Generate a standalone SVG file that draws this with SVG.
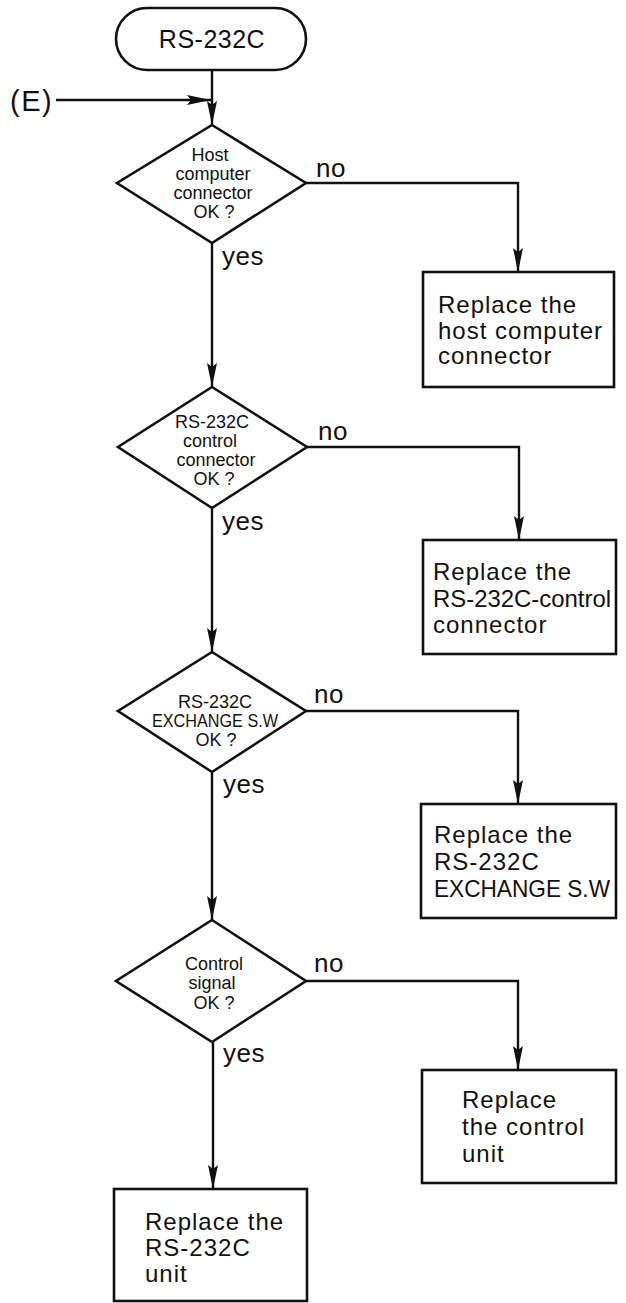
<svg xmlns="http://www.w3.org/2000/svg" width="626" height="1303" viewBox="0 0 626 1303">
<style>
.shape{fill:#fff;stroke:#111;stroke-width:2.6}
.conn{fill:none;stroke:#111;stroke-width:2.4;marker-end:url(#ah)}
text{font-family:"Liberation Sans",Arial,sans-serif;fill:#111}
.q{font-size:18px;text-anchor:middle}
.lbl{font-size:26px;letter-spacing:0.5px}
.box{font-size:24px;letter-spacing:1px}
.term{font-size:25px;letter-spacing:0.5px;text-anchor:middle}
</style>
<defs>
<marker id="ah" markerUnits="userSpaceOnUse" viewBox="0 0 24 10" refX="24" refY="5" markerWidth="24" markerHeight="10" orient="auto">
<path d="M0,0 L24,5 L0,10 L4,5 z" fill="#111"/>
</marker>
</defs>
<rect width="626" height="1303" fill="#fff"/>
<g id="connectors">
<path class="conn" d="M212,70 V125"/>
<path class="conn" d="M56,100 H211"/>
<path class="conn" d="M306,183 H518 V272"/>
<path class="conn" d="M212,243 V387"/>
<path class="conn" d="M307,447 H519 V540"/>
<path class="conn" d="M212,508 V652"/>
<path class="conn" d="M306,711 H518 V804"/>
<path class="conn" d="M212,772 V920"/>
<path class="conn" d="M306,981 H518 V1070"/>
<path class="conn" d="M213,1042 V1189"/>
</g>
<g id="labels">
<text x="10" y="111" style="font-size:29px;letter-spacing:1.5px">(E)</text>
<text class="lbl" x="316" y="177">no</text>
<text class="lbl" x="222" y="265">yes</text>
<text class="lbl" x="318" y="440">no</text>
<text class="lbl" x="222" y="530">yes</text>
<text class="lbl" x="314" y="703">no</text>
<text class="lbl" x="223" y="793">yes</text>
<text class="lbl" x="314" y="972">no</text>
<text class="lbl" x="223" y="1062">yes</text>
</g>
<g id="start">
<rect class="shape" x="116" y="8" width="190" height="62" rx="31"/>
<text class="term" x="212" y="48">RS-232C</text>
</g>
<g id="d1">
<polygon class="shape" points="212,125 306,183 212,243 117,183"/>
<text class="q" x="210" y="161">Host</text>
<text class="q" x="213" y="180">computer</text>
<text class="q" x="213" y="199">connector</text>
<text class="q" x="214" y="218">OK ?</text>
</g>
<g id="b1">
<rect class="shape" x="423" y="272" width="191" height="115"/>
<text class="box" x="438" y="313">Replace the</text>
<text class="box" x="438" y="339">host computer</text>
<text class="box" x="438" y="364">connector</text>
</g>
<g id="d2">
<polygon class="shape" points="212,387 307,447 212,508 118,447"/>
<text class="q" x="212" y="428">RS-232C</text>
<text class="q" x="210" y="447">control</text>
<text class="q" x="216" y="466">connector</text>
<text class="q" x="214" y="485">OK ?</text>
</g>
<g id="b2">
<rect class="shape" x="423" y="540" width="193" height="114"/>
<text class="box" x="433" y="580">Replace the</text>
<text class="box" x="433" y="607" textLength="178" lengthAdjust="spacingAndGlyphs" style="letter-spacing:0">RS-232C-control</text>
<text class="box" x="433" y="633">connector</text>
</g>
<g id="d3">
<polygon class="shape" points="212,652 306,711 212,772 118,711"/>
<text class="q" x="215" y="708">RS-232C</text>
<text class="q" x="152" y="727" textLength="126" lengthAdjust="spacingAndGlyphs" style="text-anchor:start">EXCHANGE S.W</text>
<text class="q" x="216" y="746">OK ?</text>
</g>
<g id="b3">
<rect class="shape" x="421" y="804" width="195" height="114"/>
<text class="box" x="434" y="843">Replace the</text>
<text class="box" x="434" y="870">RS-232C</text>
<text class="box" x="434" y="897" textLength="176" lengthAdjust="spacingAndGlyphs" style="letter-spacing:0">EXCHANGE S.W</text>
</g>
<g id="d4">
<polygon class="shape" points="212,920 306,981 212,1042 116,981"/>
<text class="q" x="214" y="970">Control</text>
<text class="q" x="212" y="989">signal</text>
<text class="q" x="214" y="1009">OK ?</text>
</g>
<g id="b4">
<rect class="shape" x="422" y="1070" width="194" height="113"/>
<text class="box" x="462" y="1108">Replace</text>
<text class="box" x="462" y="1135">the control</text>
<text class="box" x="462" y="1162">unit</text>
</g>
<g id="b5">
<rect class="shape" x="114" y="1189" width="193" height="112"/>
<text class="box" x="145" y="1230">Replace the</text>
<text class="box" x="145" y="1256">RS-232C</text>
<text class="box" x="145" y="1282">unit</text>
</g>
</svg>
